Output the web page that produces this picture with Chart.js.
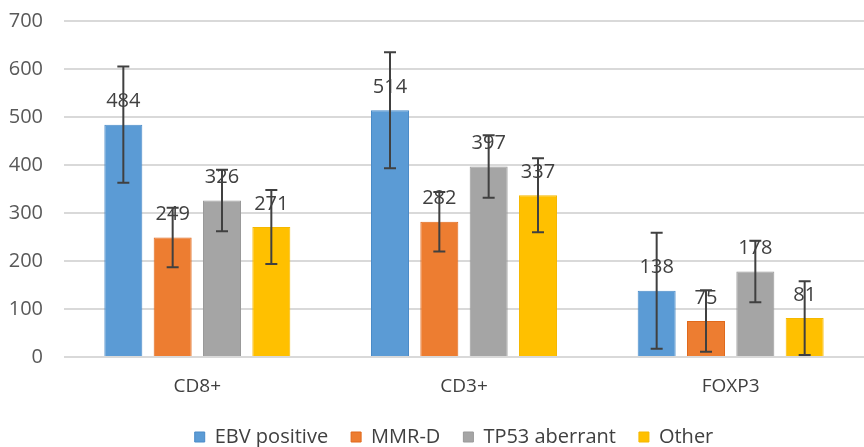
<!DOCTYPE html>
<html>
<head>
<meta charset="utf-8">
<script src="https://cdn.jsdelivr.net/npm/chart.js@4/dist/chart.umd.min.js"></script>
<style>
  body { margin: 0; background: #fff; }
  #wrap { width: 864px; height: 447px; }
</style>
</head>
<body>
<div id="wrap"><canvas id="chart"></canvas></div>
<script>
// values
var categories = ["CD8+", "CD3+", "FOXP3"];
var ebvPositive = [484, 514, 138];
var mmrD = [249, 282, 75];
var tp53Aberrant = [326, 397, 178];
var other = [271, 337, 81];
// error bar half widths
var ebvErr = [121, 121, 121];
var mmrErr = [62, 62, 64];
var tp53Err = [64, 65, 64];
var otherErr = [77, 77, 77];
var yTicks = [0, 100, 200, 300, 400, 500, 600, 700];

var FONT = '"Open Sans", sans-serif';

// draws the error bars and the value labels over the bars
var barExtras = {
    id: 'barExtras',
    afterLayout: function(chart) {
        // the legend sits a little right of centre in the original
        chart.legend.left += 22;
        chart.legend.right += 22;
    },
    afterDatasetsDraw: function(chart) {
        var ctx = chart.ctx;
        var yScale = chart.scales.y;
        chart.data.datasets.forEach(function(ds, i) {
            var meta = chart.getDatasetMeta(i);
            if (meta.hidden) return;
            meta.data.forEach(function(bar, j) {
                var v = ds.data[j];
                var e = ds.err[j];
                // value label
                ctx.save();
                ctx.fillStyle = '#404040';
                ctx.font = '20px ' + FONT;
                ctx.textAlign = 'center';
                ctx.textBaseline = 'middle';
                ctx.fillText(v, bar.x, yScale.getPixelForValue(v) - 23);
                ctx.restore();
                // error bar
                var top = yScale.getPixelForValue(v + e);
                var bot = yScale.getPixelForValue(Math.max(v - e, 0));
                ctx.save();
                ctx.strokeStyle = '#404040';
                ctx.lineWidth = 2;
                ctx.beginPath();
                ctx.moveTo(bar.x, top);
                ctx.lineTo(bar.x, bot);
                ctx.moveTo(bar.x - 6, top);
                ctx.lineTo(bar.x + 6, top);
                ctx.moveTo(bar.x - 6, bot);
                ctx.lineTo(bar.x + 6, bot);
                ctx.stroke();
                ctx.restore();
            });
        });
    }
};

var ctx = document.getElementById('chart');
var chart = new Chart(ctx, {
    type: 'bar',
    data: {
        labels: categories,
        datasets: [{
            label: 'EBV positive',
            data: ebvPositive,
            err: ebvErr,
            backgroundColor: '#5B9BD5',
            borderColor: '#4A8BC8',
            borderWidth: 1
        }, {
            label: 'MMR-D',
            data: mmrD,
            err: mmrErr,
            backgroundColor: '#ED7D31',
            borderColor: '#E0691C',
            borderWidth: 1
        }, {
            label: 'TP53 aberrant',
            data: tp53Aberrant,
            err: tp53Err,
            backgroundColor: '#A5A5A5',
            borderColor: '#999999',
            borderWidth: 1
        }, {
            label: 'Other',
            data: other,
            err: otherErr,
            backgroundColor: '#FFC000',
            borderColor: '#F5B800',
            borderWidth: 1
        }]
    },
    options: {
        responsive: true,
        maintainAspectRatio: false,
        animation: false,
        categoryPercentage: 0.74,
        barPercentage: 0.77,
        layout: { padding: { top: 21, right: 0, left: 0, bottom: 0 } },
        plugins: {
            tooltip: { enabled: false },
            legend: {
                position: 'bottom',
                maxHeight: 43,
                labels: {
                    boxWidth: 10,
                    boxHeight: 10,
                    padding: 23,
                    color: '#404040',
                    font: { size: 20, family: FONT }
                }
            }
        },
        scales: {
            x: {
                grid: { display: false },
                border: { display: false },
                afterFit: function(scale) { scale.height = 47; },
                ticks: {
                    color: '#404040',
                    padding: 10,
                    font: { size: 19, family: FONT }
                }
            },
            y: {
                min: 0,
                max: 700,
                afterFit: function(scale) {
                    scale.width = 64;
                    scale.paddingTop = 0;
                    scale.paddingBottom = 0;
                },
                afterBuildTicks: function(scale) {
                    scale.ticks = yTicks.map(function(t) { return { value: t }; });
                },
                grid: { color: '#D9D9D9', lineWidth: 2, drawTicks: false },
                border: { display: false },
                ticks: {
                    color: '#595959',
                    padding: 21,
                    font: { size: 20, family: FONT }
                }
            }
        }
    },
    plugins: [barExtras]
});
</script>
</body>
</html>
